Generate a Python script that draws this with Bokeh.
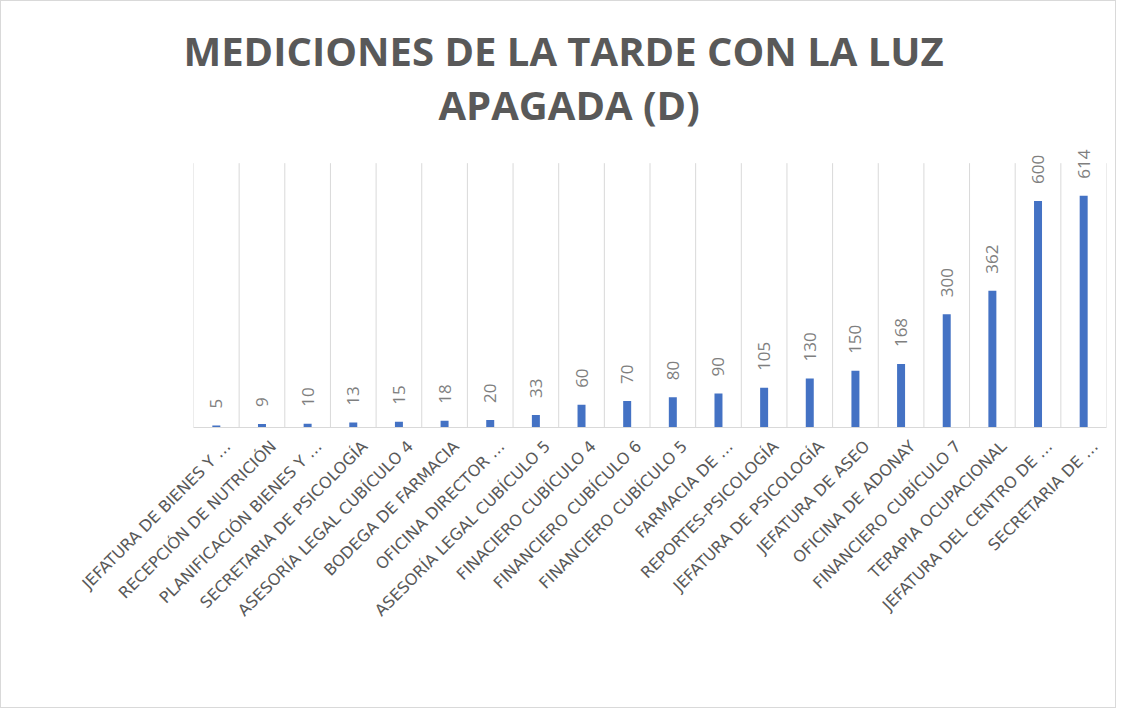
import math
from bokeh.plotting import figure
from bokeh.models import ColumnDataSource, FixedTicker, Title, Range1d, LabelSet
from bokeh.core.properties import value
from bokeh.embed import file_html
from bokeh.resources import INLINE

categories = [
    "JEFATURA DE BIENES Y …",
    "RECEPCIÓN DE NUTRICIÓN",
    "PLANIFICACIÓN BIENES Y …",
    "SECRETARIA DE PSICOLOGÍA",
    "ASESORÍA LEGAL CUBÍCULO 4",
    "BODEGA DE FARMACIA",
    "OFICINA DIRECTOR …",
    "ASESORÍA LEGAL CUBÍCULO 5",
    "FINACIERO CUBÍCULO 4",
    "FINANCIERO CUBÍCULO 6",
    "FINANCIERO CUBÍCULO 5",
    "FARMACIA DE …",
    "REPORTES-PSICOLOGÍA",
    "JEFATURA DE PSICOLOGÍA",
    "JEFATURA DE ASEO",
    "OFICINA DE ADONAY",
    "FINANCIERO CUBÍCULO 7",
    "TERAPIA OCUPACIONAL",
    "JEFATURA DEL CENTRO DE …",
    "SECRETARIA DE …",
]
values = [5, 9, 10, 13, 15, 18, 20, 33, 60, 70, 80, 90, 105, 130, 150, 168, 300, 362, 600, 614]
title_lines = ["MEDICIONES DE LA TARDE CON LA LUZ", "APAGADA (D)"]
y_axis_max = 700

n = len(categories)
xs = list(range(1, n + 1))
src = ColumnDataSource(dict(x=xs, top=values, label=[str(v) for v in values]))

p = figure(width=1116, height=708, output_backend="svg", toolbar_location=None,
           title=None,
           x_range=Range1d(0.5, n + 0.5), y_range=Range1d(0, 760),
           min_border_left=192, min_border_right=11, min_border_top=139,
           min_border_bottom=282)
p.outline_line_color = None
p.background_fill_color = "white"
p.border_fill_color = "white"
p.styles = {"border": "1px solid #d9d9d9", "box-sizing": "border-box"}

# vertical gridlines at category boundaries, up to the value-axis maximum
bounds = [i + 0.5 for i in range(n + 1)]
p.segment(x0=bounds, x1=bounds, y0=[0] * len(bounds), y1=[y_axis_max] * len(bounds),
          line_color="#d9d9d9", line_width=1)

p.vbar(x="x", top="top", bottom=0, width=0.175, source=src,
       fill_color="#4472C4", line_color=None)

p.add_layout(LabelSet(x="x", y="top", text="label", source=src, angle=math.pi / 2,
                      text_align="left", text_baseline="middle", y_offset=17,
                      text_font=value("Open Sans"), text_font_size=value("17px"),
                      text_color="#7f7f7f"))

p.ygrid.visible = False
p.xgrid.visible = False
p.yaxis.visible = False

ax = p.xaxis[0]
label_pos = [x + 0.25 for x in xs]
ax.ticker = FixedTicker(ticks=label_pos)
ax.major_label_overrides = {x: c for x, c in zip(label_pos, categories)}
ax.major_label_orientation = math.pi / 4
ax.major_label_text_font = "DejaVu Sans"
ax.major_label_text_font_size = "16px"
ax.major_label_text_color = "#595959"
ax.major_tick_line_color = None
ax.minor_tick_line_color = None
ax.axis_line_color = "#d9d9d9"
ax.major_label_standoff = 10

p.add_layout(Title(text=title_lines[1], align="left", text_font="Open Sans",
                   text_font_style="bold", text_font_size="40px", text_color="#595959",
                   offset=245, standoff=18), "above")
p.add_layout(Title(text=title_lines[0], align="left", text_font="Open Sans",
                   text_font_style="bold", text_font_size="40px", text_color="#595959",
                   offset=-10, standoff=-24), "above")

open("out.html", "w").write(file_html(p, INLINE))
